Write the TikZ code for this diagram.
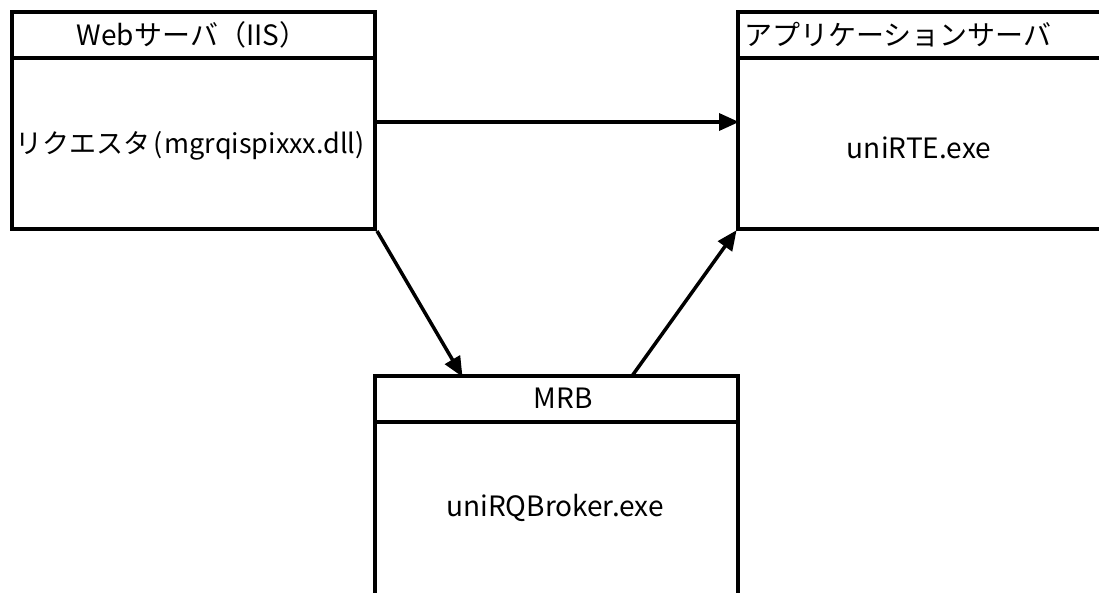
\documentclass[tikz,border=0pt]{standalone}
\usepackage{fontspec}
\setmainfont{Noto Sans CJK JP}
\usetikzlibrary{arrows.meta}
\begin{document}
\begin{tikzpicture}[x=1pt,y=-1pt,
  box/.style={draw, line width=4pt, rectangle, inner sep=0pt},
  lbl/.style={inner sep=0pt, font=\fontsize{28}{32}\selectfont},
  conn/.style={line width=3.5pt, -{Triangle[length=20pt,width=17pt]}, shorten >=-1pt}]
\useasboundingbox (0,0) rectangle (1099,593);
\clip (0,0) rectangle (1099,593);
% boxes
\node[box, minimum width=363pt, minimum height=217pt] (web) at (193.5,120.5) {};
\node[box, minimum width=364pt, minimum height=217pt] (app) at (920,120.5) {};
\node[box, minimum width=363pt, minimum height=220pt] (mrb) at (556.5,486) {};
% header dividers
\coordinate (webdl) at (12,58);
\coordinate (webdr) at (375,58);
\coordinate (appdl) at (738,58);
\coordinate (appdr) at (1102,58);
\coordinate (mrbdl) at (375,422);
\coordinate (mrbdr) at (738,422);
\draw[line width=4pt] (webdl) -- (webdr);
\draw[line width=4pt] (appdl) -- (appdr);
\draw[line width=4pt] (mrbdl) -- (mrbdr);
% texts
\node[lbl] (webh) at (192,35) {Webサーバ（IIS）};
\node[lbl, font=\fontsize{27}{32}\selectfont] (webb) at (190,146) {リクエスタ\hspace{3pt}(\hspace{2pt}mgrqispixxx.dll)};
\node[lbl, anchor=west] (apph) at (744,35) {アプリケーションサーバ};
\node[lbl] (appb) at (919,148) {uniRTE.exe};
\node[lbl] (mrbh) at (563,398) {MRB};
\node[lbl] (mrbb) at (555,508) {uniRQBroker.exe};
% connector points
\coordinate (webE) at (375,122);
\coordinate (appW) at (738,122);
\coordinate (mrbIn) at (462,376);
\coordinate (mrbOut) at (632,376);
\draw[conn] (webE) -- (appW);
\draw[conn] (web.south east) -- (mrbIn);
\draw[conn] (mrbOut) -- (app.south west);
\end{tikzpicture}
\end{document}
